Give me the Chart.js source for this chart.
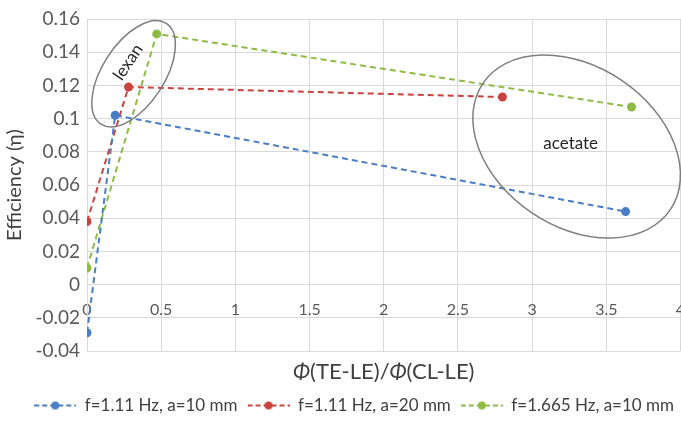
<!DOCTYPE html>
<html>
<head>
<meta charset="utf-8">
<script src="https://cdn.jsdelivr.net/npm/chart.js@4.4.0/dist/chart.umd.min.js"></script>
<style>
  html, body { margin: 0; padding: 0; background: #fff; overflow: hidden; }
  #wrap { position: relative; width: 685px; height: 421px; }
</style>
</head>
<body>
<div id="wrap"><canvas id="effChart"></canvas></div>
<script>
// values
const seriesLabels = ['f=1.11 Hz, a=10 mm', 'f=1.11 Hz, a=20 mm', 'f=1.665 Hz, a=10 mm'];
const blueX = [0, 0.19, 3.63];
const blueY = [-0.029, 0.102, 0.044];
const redX = [0, 0.28, 2.80];
const redY = [0.038, 0.119, 0.113];
const greenX = [0, 0.47, 3.67];
const greenY = [0.010, 0.151, 0.107];
const xTicks = [0, 0.5, 1, 1.5, 2, 2.5, 3, 3.5, 4];
const yTicks = [-0.04, -0.02, 0, 0.02, 0.04, 0.06, 0.08, 0.1, 0.12, 0.14, 0.16];
const groupLabels = ['lexan', 'acetate'];

const FONT = 'Lato, "DejaVu Sans", sans-serif';
const colors = ['#4a7ec4', '#c9443f', '#8fbb45'];
const xTitleParts = [['Φ', true], ['(TE-LE)/', false], ['Φ', true], ['(CL-LE)', false]];

function pts(xs, ys) {
    return xs.map((v, i) => ({ x: v, y: ys[i] }));
}

// little "--o--" picture for the legend
function legendSample(color) {
    const c = document.createElement('canvas');
    c.width = 42; c.height = 10;
    const g = c.getContext('2d');
    g.strokeStyle = color;
    g.lineWidth = 2;
    g.setLineDash([5, 3]);
    g.beginPath(); g.moveTo(0, 5); g.lineTo(42, 5); g.stroke();
    g.fillStyle = color;
    g.beginPath(); g.arc(21, 5, 4, 0, Math.PI * 2); g.fill();
    return c;
}
const samples = colors.map(legendSample);

function makeSet(i, xs, ys) {
    return {
        label: seriesLabels[i],
        data: pts(xs, ys),
        showLine: true,
        borderColor: colors[i],
        backgroundColor: colors[i],
        borderWidth: 2,
        borderDash: [6, 4],
        pointRadius: 4.5,
        pointBorderWidth: 0,
        pointBackgroundColor: colors[i]
    };
}

// ellipses and their captions
const groupNotes = {
    id: 'groupNotes',
    afterDatasetsDraw(chart) {
        const { ctx, scales: { x, y } } = chart;
        const deg = Math.PI / 180;
        ctx.save();
        ctx.strokeStyle = '#7f7f7f';
        ctx.lineWidth = 1.5;
        ctx.beginPath();
        ctx.ellipse(x.getPixelForValue(0.314), y.getPixelForValue(0.127), 60, 31, -57 * deg, 0, Math.PI * 2);
        ctx.stroke();
        ctx.beginPath();
        ctx.ellipse(x.getPixelForValue(3.30), y.getPixelForValue(0.0832), 113, 80, 34 * deg, 0, Math.PI * 2);
        ctx.stroke();

        ctx.fillStyle = '#262626';
        ctx.font = '17px ' + FONT;
        ctx.textAlign = 'center';
        ctx.textBaseline = 'middle';
        ctx.save();
        ctx.translate(x.getPixelForValue(0.277), y.getPixelForValue(0.134));
        ctx.rotate(-56 * deg);
        ctx.fillText(groupLabels[0], 0, 0);
        ctx.restore();
        ctx.fillText(groupLabels[1], x.getPixelForValue(3.26), y.getPixelForValue(0.085));
        ctx.restore();
    }
};

// x title with italic phi, drawn in the box the title plugin reserves
const xTitle = {
    id: 'xTitle',
    afterDraw(chart) {
        const blk = chart.titleBlock;
        if (!blk) return;
        const { ctx, chartArea } = chart;
        const cy = blk.top + 8 + 13;
        ctx.save();
        ctx.fillStyle = '#404040';
        ctx.textBaseline = 'middle';
        ctx.textAlign = 'left';
        let total = 0;
        const widths = xTitleParts.map(([t, it]) => {
            ctx.font = (it ? 'italic ' : '') + '22px ' + FONT;
            const w = ctx.measureText(t).width;
            total += w;
            return w;
        });
        let cx = (chartArea.left + chartArea.right) / 2 - total / 2;
        xTitleParts.forEach(([t, it], i) => {
            ctx.font = (it ? 'italic ' : '') + '22px ' + FONT;
            ctx.fillText(t, cx, cy);
            cx += widths[i];
        });
        ctx.restore();
    }
};

const ctx = document.getElementById('effChart').getContext('2d');
new Chart(ctx, {
    type: 'scatter',
    data: {
        datasets: [
            makeSet(0, blueX, blueY),
            makeSet(1, redX, redY),
            makeSet(2, greenX, greenY)
        ]
    },
    options: {
        responsive: true,
        maintainAspectRatio: false,
        animation: false,
        layout: { padding: { top: 19, right: 1, bottom: -3, left: 0 } },
        plugins: {
            legend: {
                position: 'bottom',
                align: 'end',
                labels: {
                    usePointStyle: true,
                    pointStyleWidth: 42,
                    padding: 10,
                    color: '#404040',
                    font: { family: FONT, size: 17 },
                    generateLabels(chart) {
                        const items = Chart.defaults.plugins.legend.labels.generateLabels(chart);
                        items.forEach((it, i) => { it.pointStyle = samples[i]; });
                        return items;
                    }
                }
            },
            title: {
                display: true,
                position: 'bottom',
                weight: 500,
                text: xTitleParts.map(p => p[0]).join(''),
                color: 'rgba(0,0,0,0)',
                font: { family: FONT, size: 20, weight: 'normal', lineHeight: 1.2 },
                padding: { top: 9, bottom: 3 }
            },
            tooltip: { enabled: false }
        },
        scales: {
            x: {
                type: 'linear',
                position: { y: 0 },
                min: 0,
                max: 4,
                afterBuildTicks: s => { s.ticks = xTicks.map(v => ({ value: v })); },
                afterFit: s => { s.height = 0; s.paddingLeft = 0; s.paddingRight = 0; },
                grid: { color: '#d9d9d9', drawTicks: false },
                border: { color: '#d9d9d9' },
                ticks: {
                    padding: 16,
                    color: '#595959',
                    font: { family: FONT, size: 16 },
                    callback: v => String(v)
                }
            },
            y: {
                type: 'linear',
                position: 'left',
                min: -0.04,
                max: 0.16,
                afterBuildTicks: s => { s.ticks = yTicks.map(v => ({ value: v })); },
                afterFit: s => { s.width = 87; s.paddingTop = 0; s.paddingBottom = 0; },
                grid: { color: '#d9d9d9', drawTicks: false },
                border: { color: '#d9d9d9' },
                title: {
                    display: true,
                    text: 'Efficiency (η)',
                    color: '#404040',
                    font: { family: FONT, size: 20 },
                    padding: { top: 3, bottom: 0 }
                },
                ticks: {
                    padding: 7,
                    color: '#595959',
                    font: { family: FONT, size: 19 },
                    callback: v => String(Number(v.toFixed(2)))
                }
            }
        }
    },
    plugins: [groupNotes, xTitle]
});
</script>
</body>
</html>
